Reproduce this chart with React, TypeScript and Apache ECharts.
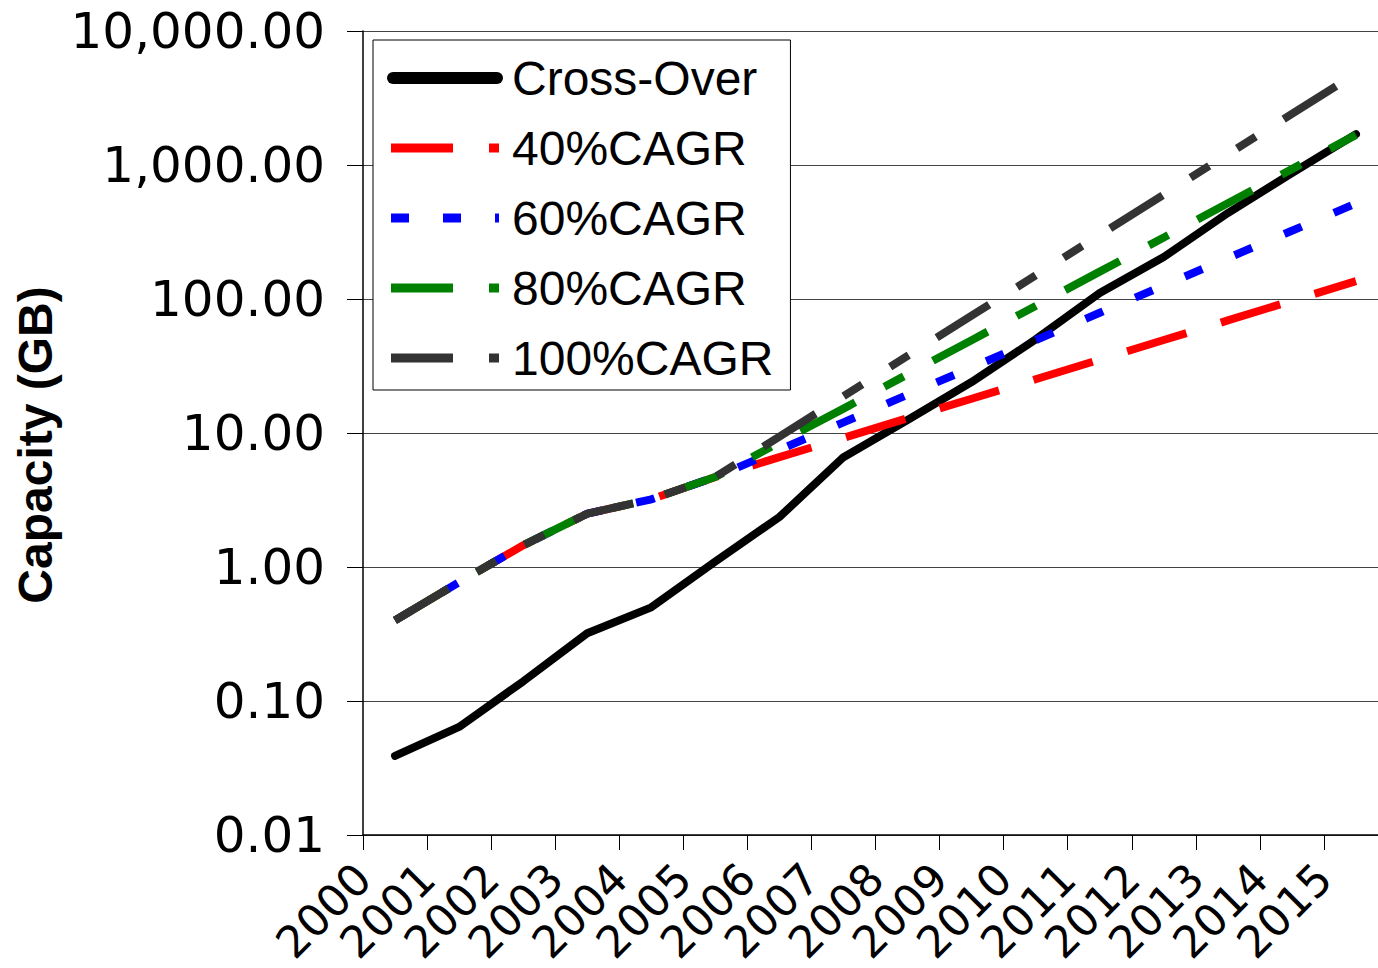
import React, { useEffect, useRef } from "react";
import * as echarts from "echarts";

// Categories (years)
const years = [
  "2000", "2001", "2002", "2003", "2004", "2005", "2006", "2007",
  "2008", "2009", "2010", "2011", "2012", "2013", "2014", "2015",
];
// Tick labels sit on the category boundaries (left edge of each year)
const yearTickLabels = [...years, ""];

// Series values (GB)
const crossOver = [0.039, 0.064, 0.14, 0.32, 0.5, 1.1, 2.36, 6.6, 12.5, 24, 50, 111, 206, 438, 870, 1700];
const cagr40 = [0.4, 0.77, 1.45, 2.5, 3.2, 4.7, 6.6, 9.2, 12.9, 18.0, 25.2, 35.3, 49.4, 69.2, 96.9, 136];
const cagr60 = [0.4, 0.77, 1.45, 2.5, 3.2, 4.7, 7.5, 12.0, 19.3, 30.8, 49.3, 78.9, 126, 202, 323, 517];
const cagr80 = [0.4, 0.77, 1.45, 2.5, 3.2, 4.7, 8.5, 15.2, 27.4, 49.3, 88.8, 160, 288, 518, 932, 1678];
const cagr100 = [0.4, 0.77, 1.45, 2.5, 3.2, 4.7, 9.4, 18.8, 37.6, 75.2, 150, 301, 602, 1203, 2406, 4813];

const seriesNames = ["Cross-Over", "40%CAGR", "60%CAGR", "80%CAGR", "100%CAGR"];
const seriesColors = ["#000000", "#ff0000", "#0000ff", "#008000", "#333333"];

// Legend sample shapes (icon box 116 x 12)
const BOUNDS = "M0,0L0,0M116,12L116,12";
const iconSolid = "path://M6,0H110A6,6,0,0,1,110,12H6A6,6,0,0,1,6,0Z";
const iconLong = "path://" + BOUNDS + "M4,1.5H66V10.5H4ZM102,1.5H112V10.5H102Z";
const iconShort = "path://" + BOUNDS + "M4,1.5H22V10.5H4ZM56,1.5H74V10.5H56ZM108,1.5H112V10.5H108Z";
const legendIcons = [iconSolid, iconLong, iconShort, iconLong, iconLong];

const FONT_NUM = "'DejaVu Sans', sans-serif";
const FONT_TXT = "'Liberation Sans', Arial, sans-serif";

const fmtY = (v: number) =>
  Number(v).toLocaleString("en-US", { minimumFractionDigits: 2, maximumFractionDigits: 2 });

export default function App() {
  const ref = useRef<HTMLDivElement>(null);

  useEffect(() => {
    document.body.style.margin = "0";
    if (!ref.current) return;
    const chart = echarts.init(ref.current, undefined, { renderer: "svg" });

    const dashed = (idx: number, data: number[], dash: number[]) => ({
      name: seriesNames[idx],
      type: "line",
      xAxisIndex: 0,
      data,
      symbol: "none",
      showSymbol: false,
      itemStyle: { color: seriesColors[idx], borderWidth: 0 },
      lineStyle: { color: seriesColors[idx], width: 8, type: dash, cap: "butt", join: "miter" },
      z: 3,
    });

    const option: any = {
      animation: false,
      backgroundColor: "#ffffff",
      grid: {
        left: 363,
        top: 31,
        right: -10,
        bottom: 133,
        containLabel: false,
        outerBoundsMode: "none",
      },
      xAxis: [
        {
          type: "category",
          data: years,
          boundaryGap: true,
          position: "bottom",
          axisLine: { show: true, onZero: false, lineStyle: { color: "#000", width: 1.5 } },
          axisTick: { show: true, length: 15, interval: 0, lineStyle: { color: "#000", width: 1 } },
          splitLine: { show: false },
          axisLabel: { show: false },
        },
        {
          type: "category",
          data: yearTickLabels,
          boundaryGap: false,
          position: "bottom",
          axisLine: { show: false, onZero: false },
          axisTick: { show: false },
          splitLine: { show: false },
          axisLabel: {
            interval: 0,
            rotate: 45,
            margin: 36,
            hideOverlap: false,
            fontFamily: FONT_NUM,
            fontSize: 44,
            lineHeight: 44,
            color: "#000",
          },
        },
      ],
      yAxis: {
        type: "log",
        logBase: 10,
        min: 0.01,
        max: 10000,
        name: "Capacity (GB)",
        nameLocation: "middle",
        nameRotate: 90,
        nameGap: 302,
        nameTextStyle: {
          fontFamily: FONT_TXT,
          fontWeight: "bold",
          fontSize: 48,
          color: "#000",
          padding: [0, 24, 0, 0],
        },
        axisLine: { show: true, onZero: false, lineStyle: { color: "#000", width: 1.5 } },
        axisTick: { show: true, length: 16, lineStyle: { color: "#000", width: 1 } },
        splitLine: { show: true, lineStyle: { color: "#444", width: 1 } },
        axisLabel: {
          margin: 38,
          showMinLabel: true,
          showMaxLabel: true,
          fontFamily: FONT_NUM,
          fontSize: 50,
          color: "#000",
          formatter: (v: number) => fmtY(v),
        },
      },
      legend: {
        orient: "vertical",
        left: 373,
        top: 40,
        padding: [14, 17, 8, 14],
        itemGap: 22,
        itemWidth: 116,
        itemHeight: 12,
        symbolKeepAspect: false,
        backgroundColor: "#fff",
        borderColor: "#000",
        borderWidth: 1,
        borderRadius: 0,
        itemStyle: { borderWidth: 0 },
        textStyle: {
          fontFamily: FONT_TXT,
          fontSize: 48,
          lineHeight: 48,
          color: "#000",
          padding: [0, 0, 0, 4],
        },
        data: seriesNames.map((name, i) => ({
          name,
          icon: legendIcons[i],
          itemStyle: { color: seriesColors[i], borderWidth: 0 },
        })),
      },
      series: [
        {
          name: seriesNames[0],
          type: "line",
          xAxisIndex: 0,
          data: crossOver,
          symbol: "none",
          showSymbol: false,
          itemStyle: { color: seriesColors[0], borderWidth: 0 },
          lineStyle: { color: seriesColors[0], width: 8, cap: "round", join: "round" },
          z: 2,
        },
        dashed(1, cagr40, [62, 36]),
        dashed(2, cagr60, [19, 35]),
        dashed(3, cagr80, [62, 33, 22, 33]),
        dashed(4, cagr100, [62, 33, 22, 33, 22, 33]),
      ],
    };

    chart.setOption(option);
    return () => chart.dispose();
  }, []);

  return <div ref={ref} style={{ width: 1378, height: 968 }} />;
}
